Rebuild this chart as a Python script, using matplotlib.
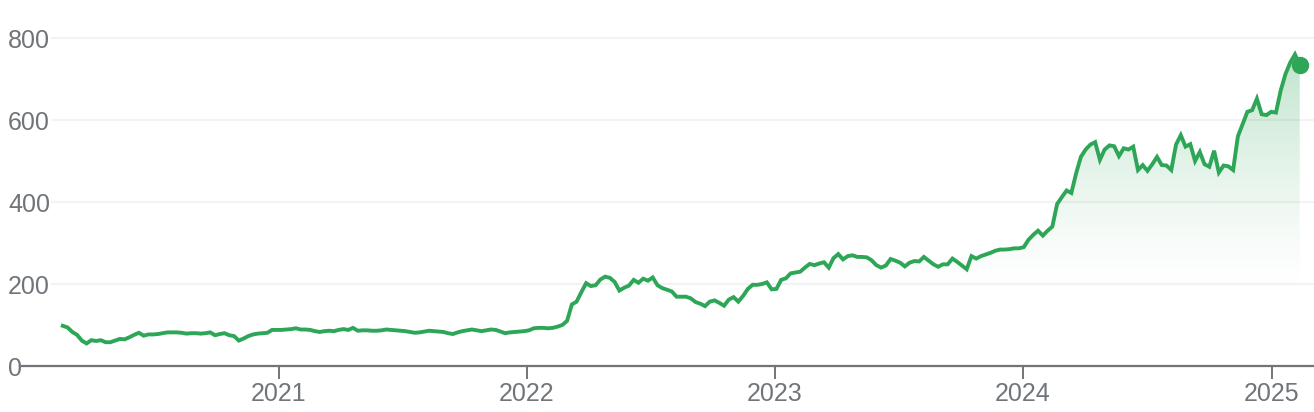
import numpy as np
import pandas as pd
import matplotlib
matplotlib.use('Agg')
import matplotlib.pyplot as plt
import matplotlib.dates as mdates

plt.rcParams['font.family'] = ['Liberation Sans', 'DejaVu Sans']

# Weekly closing prices, Feb 2020 -> Feb 2025
prices = [
    98, 94, 83, 76, 62, 55, 63, 61, 63, 58, 58, 62, 66, 65, 70, 76, 81, 74, 77, 77,
    78, 80, 82, 82, 82, 81, 79, 80, 80, 79, 80, 82, 75, 78, 80, 75, 73, 62, 67, 73,
    77, 79, 80, 81, 88, 88, 88, 89, 90, 92, 89, 89, 88, 85, 83, 85, 86, 85, 88, 90,
    88, 93, 86, 87, 87, 86, 86, 87, 89, 88, 87, 86, 85, 83, 81, 82, 84, 86, 85, 84,
    83, 80, 78, 82, 85, 87, 89, 87, 85, 87, 89, 88, 84, 80, 82, 83, 84, 85, 87, 92,
    93, 93, 92, 93, 96, 100, 110, 150, 157, 180, 202, 195, 197, 211, 218, 215, 205, 184, 191, 196,
    210, 203, 213, 208, 216, 197, 190, 186, 182, 169, 169, 169, 165, 156, 152, 146, 157, 160, 154, 147,
    162, 168, 157, 171, 188, 198, 198, 200, 204, 187, 188, 210, 214, 226, 228, 230, 240, 249, 246, 250,
    253, 240, 263, 273, 260, 268, 270, 266, 266, 265, 258, 246, 240, 245, 261, 257, 252, 243, 252, 256,
    255, 266, 257, 248, 242, 248, 248, 262, 254, 245, 236, 268, 262, 268, 272, 276, 281, 284, 284, 285,
    287, 287, 290, 308, 320, 330, 318, 330, 340, 395, 412, 428, 422, 470, 510, 528, 540, 546, 503, 528,
    538, 536, 512, 531, 528, 535, 478, 490, 476, 492, 510, 490, 489, 478, 540, 563, 535, 541, 500, 522,
    492, 486, 525, 472, 489, 487, 478, 560, 590, 620, 624, 652, 614, 612, 620, 618, 672, 712, 740, 760,
    735,
]
dates = pd.date_range('2020-02-18', periods=len(prices), freq='7D')

year_ticks = pd.to_datetime(['2021-01-01', '2022-01-01', '2023-01-01', '2024-01-01', '2025-01-01'])
year_labels = ['2021', '2022', '2023', '2024', '2025']
y_ticks = [0, 200, 400, 600, 800]

green = '#2ea657'
grey = '#70757a'

fig = plt.figure(figsize=(13.14, 4.12), dpi=100)
ax = fig.add_axes([22 / 1314, 46 / 412, 1292 / 1314, 366 / 412])

x_left = pd.Timestamp('2019-12-20')
x_right = pd.Timestamp('2025-03-04')
y_top = 366 * 200 / 82

# Gridlines (start a bit right of the axis start)
for v in y_ticks[1:]:
    ax.axhline(v, xmin=30 / 1292, xmax=1, color='#f1f3f4', lw=1.5, zorder=0.5)

# Gradient fill under the line, fading out towards the bottom
levels = np.linspace(0, y_top, 500)
alpha = 0.3 * np.clip((levels - 180) / 580, 0, 1) ** 1.3
rgba = np.zeros((len(levels), 1, 4))
rgba[..., :3] = matplotlib.colors.to_rgb(green)
rgba[..., 3] = alpha[:, None]
xnum = mdates.date2num(dates)
im = ax.imshow(rgba, extent=[xnum[0], xnum[-1], 0, y_top], origin='lower',
               aspect='auto', interpolation='bilinear', zorder=1)
poly = ax.fill_between(dates, prices, 0, color='none', lw=0)
im.set_clip_path(poly.get_paths()[0], transform=ax.transData)

# Price line + last point
ax.plot(dates, prices, color=green, lw=2.8, solid_joinstyle='miter', zorder=3)
ax.plot(dates[-1], prices[-1], 'o', color=green, markersize=11.5, zorder=4)

ax.set_xlim(x_left, x_right)
ax.set_ylim(0, y_top)

# Axes styling
for side in ['top', 'right', 'left']:
    ax.spines[side].set_visible(False)
ax.spines['bottom'].set_color(grey)
ax.spines['bottom'].set_linewidth(1.6)

ax.set_xticks(year_ticks)
ax.set_xticklabels(year_labels)
ax.tick_params(axis='x', direction='out', length=9.5, width=1.4, color=grey,
               labelcolor=grey, labelsize=18, pad=2)

ax.set_yticks(y_ticks)
ax.set_yticklabels([str(v) for v in y_ticks])
ax.tick_params(axis='y', length=0, labelcolor=grey, labelsize=18, pad=10)
for lab in ax.get_yticklabels():
    lab.set_horizontalalignment('left')

fig.savefig('out.png', dpi=100)
